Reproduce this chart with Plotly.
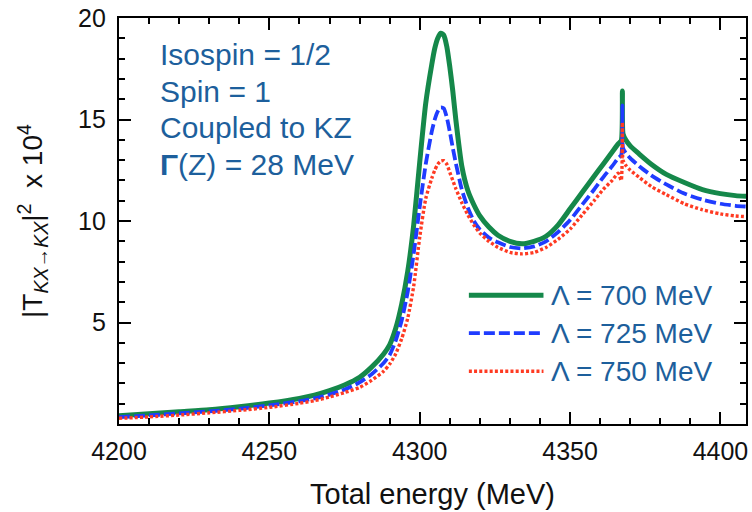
import plotly.graph_objects as go

# Total energy grid (MeV)
energy = [4200, 4210, 4220, 4230, 4240, 4250, 4260, 4265, 4270, 4275, 4280, 4284,
          4288, 4290, 4292, 4294, 4296, 4298, 4300, 4302, 4304, 4305, 4306, 4307,
          4308, 4309, 4310, 4311, 4312, 4314, 4316, 4318, 4320, 4323, 4326, 4330,
          4334, 4338, 4342, 4346, 4350, 4354, 4358, 4361, 4364, 4366, 4367, 4367.4,
          4367.6, 4368.5, 4370, 4373, 4377, 4382, 4388, 4394, 4400, 4405, 4410]

# |T|^2 x 10^4 for each cutoff
t2_700 = [0.40, 0.50, 0.60, 0.70, 0.85, 1.03, 1.26, 1.42, 1.64, 1.92, 2.30, 2.80,
          3.45, 3.90, 4.70, 5.90, 7.50, 9.80, 12.9, 15.8, 17.7, 18.5, 19.0, 19.25,
          19.15, 18.6, 17.6, 16.4, 15.0, 12.7, 11.5, 10.8, 10.25, 9.70, 9.30, 9.00,
          8.88, 9.00, 9.25, 9.80, 10.6, 11.4, 12.2, 12.8, 13.4, 13.8, 13.95, 16.4,
          14.3, 14.0, 13.7, 13.3, 12.8, 12.3, 11.9, 11.55, 11.35, 11.25, 11.2]

t2_725 = [0.34, 0.42, 0.52, 0.62, 0.75, 0.92, 1.12, 1.26, 1.45, 1.70, 2.05, 2.45,
          3.00, 3.40, 4.10, 5.10, 6.50, 8.40, 10.7, 12.8, 14.4, 15.0, 15.4, 15.6,
          15.55, 15.1, 14.4, 13.6, 12.85, 11.55, 10.65, 10.0, 9.58, 9.18, 8.95, 8.72,
          8.65, 8.75, 9.00, 9.45, 10.05, 10.8, 11.55, 12.15, 12.7, 13.1, 13.25, 15.7,
          13.6, 13.35, 13.1, 12.7, 12.25, 11.8, 11.35, 11.05, 10.85, 10.75, 10.7]

t2_750 = [0.28, 0.35, 0.44, 0.55, 0.67, 0.82, 1.02, 1.15, 1.33, 1.55, 1.80, 2.15,
          2.60, 2.95, 3.45, 4.20, 5.20, 6.80, 9.20, 11.1, 12.1, 12.5, 12.8, 12.95,
          12.97, 12.8, 12.4, 12.0, 11.6, 10.9, 10.3, 9.80, 9.40, 9.00, 8.70, 8.45,
          8.38, 8.45, 8.70, 9.10, 9.60, 10.3, 11.0, 11.55, 12.0, 12.35, 12.0, 14.85,
          13.0, 12.75, 12.5, 12.15, 11.7, 11.3, 10.85, 10.55, 10.35, 10.25, 10.2]

labels = ["Λ = 700 MeV", "Λ = 725 MeV", "Λ = 750 MeV"]
series = [t2_700, t2_725, t2_750]
colors = ["#15884a", "#1f3cff", "#ff3a22"]
widths = [5, 3.8, 3.4]
dashes = ["solid", "11px,4px", "3px,2.2px"]

x_ticks = [4200, 4250, 4300, 4350, 4400]
y_ticks = [5, 10, 15, 20]

info_lines = ["Isospin = 1/2", "Spin = 1", "Coupled to KZ", "<b>Γ</b>(Z) = 28 MeV"]

FONT = "Liberation Sans, Arial, Helvetica, sans-serif"
TEXT_BLUE = "#1d5f9c"

fig = go.Figure()
for name, vals, c, w, d in zip(labels, series, colors, widths, dashes):
    fig.add_trace(go.Scatter(x=energy, y=vals, mode="lines", name=name,
                             line=dict(color=c, width=w, dash=d,
                                       shape="spline", smoothing=0.6),
                             showlegend=False))

# Hand-drawn key: line samples with text, stacked in the lower right
key_y = [0.317, 0.224, 0.130]
for name, c, w, d, ky in zip(labels, colors, widths, dashes, key_y):
    fig.add_shape(type="line", xref="paper", yref="paper",
                  x0=0.558, x1=0.677, y0=ky, y1=ky,
                  line=dict(color=c, width=w, dash=d))
    fig.add_annotation(xref="paper", yref="paper", x=0.686, y=ky,
                       xanchor="left", yanchor="middle", showarrow=False,
                       text=name, font=dict(family=FONT, size=28, color=TEXT_BLUE))

# Parameter block in the upper left, one line per annotation
info_y = [0.910, 0.820, 0.731, 0.639]
for line, iy in zip(info_lines, info_y):
    fig.add_annotation(xref="paper", yref="paper", x=0.062, y=iy,
                       xanchor="left", yanchor="middle", showarrow=False,
                       text=line, font=dict(family=FONT, size=30, color=TEXT_BLUE))

axis_common = dict(
    showline=True, linecolor="black", linewidth=2.2, mirror="allticks",
    ticks="inside", ticklen=12, tickwidth=2, tickcolor="black",
    showgrid=False, zeroline=False,
    tickfont=dict(family=FONT, size=25, color="#111111"),
)

fig.update_xaxes(
    range=[4200, 4408.5], tickvals=x_ticks, ticktext=[str(v) for v in x_ticks],
    minor=dict(ticks="inside", ticklen=6, tickwidth=1.6, tickcolor="black", dtick=10,
               tick0=4200, showgrid=False),
    ticklabelstandoff=4,
    title=dict(text="Total energy (MeV)", standoff=20,
               font=dict(family=FONT, size=29, color="#111111")),
    **axis_common,
)
fig.update_yaxes(
    range=[0, 20], tickvals=y_ticks, ticktext=[str(v) for v in y_ticks],
    minor=dict(ticks="inside", ticklen=6, tickwidth=1.6, tickcolor="black", dtick=1,
               tick0=0, showgrid=False),
    ticklabelstandoff=6,
    title=dict(text="|T<sub><i>KX</i>→<i>KX</i></sub>|<sup>2</sup>  x 10<sup>4</sup>",
               standoff=27, font=dict(family=FONT, size=28, color="#111111")),
    **axis_common,
)

fig.update_layout(
    width=752, height=512,
    margin=dict(l=119, r=4, t=17, b=88),
    paper_bgcolor="white", plot_bgcolor="white",
)

fig.write_html("out.html")
